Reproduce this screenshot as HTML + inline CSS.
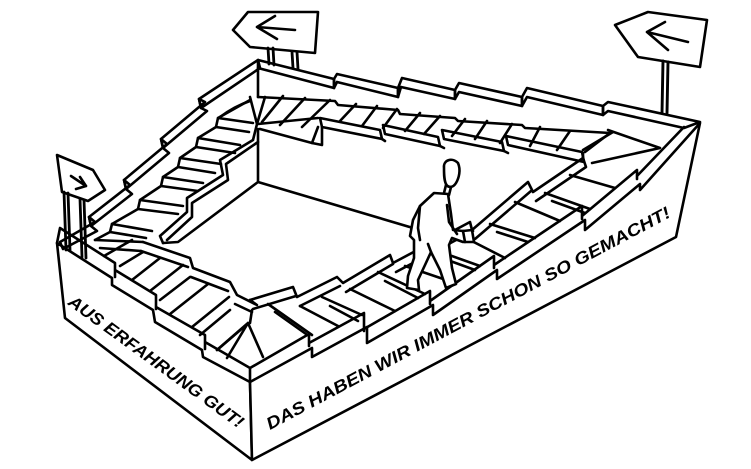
<!DOCTYPE html>
<html><head><meta charset="utf-8"><style>
html,body{margin:0;padding:0;background:#fff;}
svg{display:block;}
</style></head><body>
<svg width="751" height="469" viewBox="0 0 751 469" xmlns="http://www.w3.org/2000/svg">
<rect width="751" height="469" fill="#fff"/>
<g fill="none" stroke="#000" stroke-width="2.6" stroke-linecap="round" stroke-linejoin="round">

<!-- walls -->
<polygon fill="#fff" points="57,243 112,278 112,285 153,310 155,322 202,350 203,357 250,382 252,460 65,318"/>
<polygon fill="#fff" points="250,382 312,348 312,357 367,327 367,343 433,305 433,315 497,270 497,279 585,220 585,230 640,184 640,190 700,123 676,237 252,460"/>

<!-- left wall rim -->
<path d="M57,243 L60,228 L115,263 L115,277 M115,270 L156,295 L156,309 M156,307 L205,335 L205,349 M205,342 L250,368 L250,382"/>
<!-- right wall rim -->
<path d="M250,368 L309,334 L309,346 M309,343 L364,313 L364,331 M364,329 L430,291 L430,304 M430,301 L494,256 L494,268 M494,265 L582,206 L582,219 M582,216 L637,170 L637,179 M637,176 L684,127"/>

<!-- back rim (connected blocks) -->
<polygon points="258,60 334,79 334,88 258,68"/>
<polygon points="334,79 337,74 398,88 398,97 337,82 334,88"/>
<polygon points="398,88 402,78 455,90 455,99 401,87 398,97"/>
<polygon points="455,90 459,83 522,97 522,106 459,92 455,99"/>
<polygon points="522,97 527,88 603,106 603,115 527,97 522,106"/>
<polygon points="603,106 608,102 700,122 684,128 608,111 603,115"/>

<!-- left back rim (connected blocks) -->
<polygon points="258,60 199,99 201,108 260,68"/>
<polygon points="199,99 205,102 161,139 163,148 207,111 201,108"/>
<polygon points="161,139 167,144 124,180 126,189 169,153 163,148"/>
<polygon points="124,180 130,185 89,217 91,226 132,194 126,189"/>
<polygon points="89,217 95,222 60,242 63,249 97,231 91,226"/>

<!-- back-left corner landing -->
<path d="M258,68 L258,97 M250,97 L257,124 L265,97 M220,117 Q235,106 250,101"/>
<!-- left flight stringer -->
<path d="M250,100 L218,118 L216,127 L198,138 L196,147 L180,158 L178,167 L163,177 L161,186 L140,200 L138,209 L112,224 L110,232 L95,240"/>
<!-- left flight treads -->
<path d="M218,118 L253,123 M216,127 L249,132 M198,138 L240,145 M196,147 L235,153 M180,158 L221,164 M178,167 L215,173 M163,177 L203,183 M161,186 L198,191 M140,200 L183,206 M138,209 L178,214 M112,224 L152,231 M110,232 L146,238"/>
<!-- left inner rim -->
<path d="M257,124 L253,140 L220,160 L223,175 L187,198 L187,212 L160,236 L163,243"/>
<path d="M258,142 L226,164 L228,180 L192,203 L192,217 L167,240"/>

<!-- back flight -->
<path d="M258,97 L335,101 L338,105 L398,110 L400,114 L455,118 L458,121 L522,125 L525,128 L610,133"/>
<path d="M283,96 L262,122 M305,98 L280,125 M330,100 L302,127 M356,104 L340,121 M377,106 L362,126 M397,109 L383,128 M420,113 L405,131 M440,116 L424,134 M465,119 L452,136 M487,121 L475,139 M512,124 L500,143 M540,127 L530,146 M570,131 L557,150 M610,133 L585,152"/>
<!-- back inner rim -->
<path d="M258,124 L318,118 M260,129 L312,143 L318,127"/>
<path d="M320,118 L380,130 L382,139 L322,127 Z"/>
<path d="M383,125 L438,137 L440,146 L385,134 Z"/>
<path d="M442,130 L502,142 L504,151 L444,139 Z"/>
<path d="M506,136 L582,152 L584,162 L508,145 Z"/>
<path d="M312,143 L322,145 L322,127 M382,139 L385,141 M440,146 L444,148 M504,151 L508,153"/>

<!-- pit -->
<path d="M258,129 L258,182 L440,236 M258,182 L178,242 L163,243"/>

<!-- right corner landing -->
<path d="M608,130 L660,148 L592,163 M613,132 L583,150"/>

<!-- right flight inner rim -->
<path d="M250,300 L293,287 L297,297 L337,277 L343,283 L390,255 L393,263 L470,222 L472,230 L528,182 L533,192 L583,158 L583,153"/>
<path d="M253,309 L296,296 M300,306 L340,286 M346,292 L393,264 M396,272 L473,231 M475,239 L531,191 M536,201 L586,167 L583,158"/>
<!-- right flight treads -->
<path d="M268,304 L312,335 M300,306 L338,326 M322,297 L362,315 M350,289 L395,311 M378,272 L425,294 M405,266 L455,283 M435,250 L480,266 M462,236 L505,258 M490,224 L535,238 M515,202 L560,221 M545,193 L590,209 M570,175 L615,188"/>
<path d="M275,312 L306,334 M330,306 L358,321 M385,281 L418,298 M442,258 L475,270 M497,232 L528,242 M552,201 L585,213"/>

<!-- front-left inner rim -->
<path d="M143,242 L190,258 L193,268 L230,282 L237,295 L257,305 L250,300"/>
<path d="M141,251 L188,267 M191,277 L228,291 M235,304 L252,312"/>
<!-- front-left treads -->
<path d="M104,256 L132,240 M132,280 L160,258 M150,291 L183,265 M170,314 L208,284 M192,327 L229,297 M217,350 L245,326"/>
<path d="M120,266 L143,252 M160,300 L190,277 M200,335 L230,310"/>
<!-- front corner landing -->
<path d="M252,310 L250,323 M248,323 L263,357 M248,323 L227,358 M248,323 L217,350"/>
<!-- left corner landing -->
<path d="M95,240 L143,242 M100,248 L141,251"/>

<!-- signs -->
<polygon fill="#fff" points="233,30 248,12 318,12 315,53 250,47"/>
<path d="M257,27 L295,30 M257,27 L275,16 M257,27 L277,39"/>
<path d="M268,48 L269,64 M273,48 L274,65 M292,52 L293,68 M297,52 L298,69" stroke-width="2.8"/>

<polygon fill="#fff" points="615,25 648,12 707,20 700,67 638,57"/>
<path d="M647,32 L688,42 M647,32 L665,22 M647,32 L668,50"/>
<path d="M663,61 L662,113 M668,62 L667,113" stroke-width="2.9"/>

<polygon fill="#fff" points="57,155 93,170 105,190 88,201 62,192"/>
<path d="M71,176 L86,186 M86,186 L80,177 M86,186 L76,189"/>
<path d="M64,192 L66,250 M68,193 L70,250 M80,199 L82,257 M84,200 L86,258" stroke-width="2.8"/>

<!-- man -->
<path fill="#fff" d="M434,193 L448,194 L451,214 L453,230 L463,231 L472,230 L474,242 L463,242 L452,238 L449,245 L452,268 L456,284 L446,288 L440,270 L431,252 L425,265 L418,280 L419,290 L407,288 L408,276 L414,258 L414,240 L410,236 L413,220 L420,206 Z"/>
<path fill="#fff" d="M444,168 C443,160 452,157 458,163 C461,170 459,178 456,183 C453,188 448,188 446,184 C444,180 444,174 444,168 Z"/>
<path d="M446,185 L444,193 M451,187 L449,195 M447,205 L449,222 L457,234 M420,206 L418,228 L420,240 M463,231 L465,242 M431,252 L428,244"/>
</g>

<text transform="translate(270,430) rotate(-28)" font-family="Liberation Sans, sans-serif" font-weight="bold" font-style="italic" font-size="17" textLength="455" lengthAdjust="spacingAndGlyphs" fill="#000">DAS HABEN WIR IMMER SCHON SO GEMACHT!</text>
<text transform="translate(67,304) rotate(36)" font-family="Liberation Sans, sans-serif" font-weight="bold" font-style="italic" font-size="17" textLength="212" lengthAdjust="spacingAndGlyphs" fill="#000">AUS ERFAHRUNG GUT!</text>
</svg>
</body></html>
